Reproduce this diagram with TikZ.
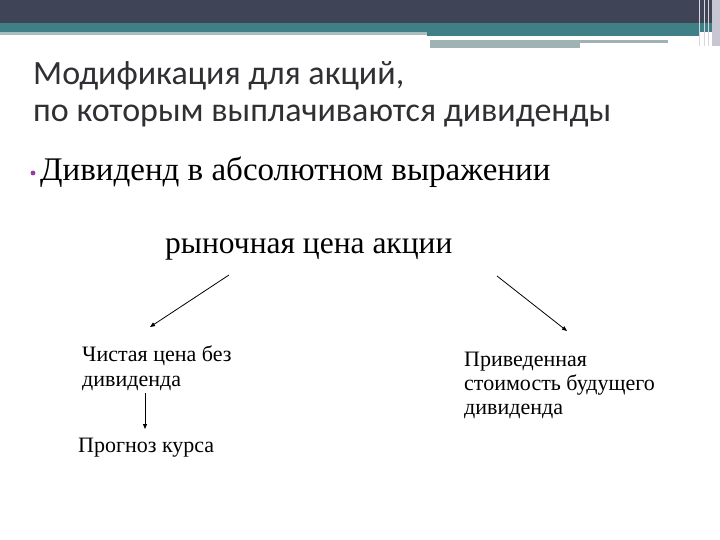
\documentclass[tikz,border=0pt]{standalone}
\usepackage{fontspec}
\setmainfont{Liberation Serif}
\newfontfamily\titlefont{Carlito}
\usetikzlibrary{arrows.meta}
\definecolor{hdrdark}{RGB}{63,68,86}
\definecolor{hdrteal}{RGB}{62,128,133}
\definecolor{hdrlight}{RGB}{169,189,192}
\definecolor{hdrgray}{RGB}{160,178,180}
\definecolor{hdrside}{RGB}{200,198,210}
\definecolor{titlegray}{RGB}{48,48,52}
\definecolor{bulletc}{RGB}{150,60,160}
\tikzset{
  txt/.style={anchor=base west, inner sep=0pt, align=left},
  arr/.style={-{Triangle[length=5pt,width=4pt]}, line width=0.8pt, black}
}
\begin{document}
\begin{tikzpicture}[x=1pt,y=-1pt]
\useasboundingbox (0,0) rectangle (720,540);
\fill[white] (0,0) rectangle (720,540);
% header
\fill[hdrdark] (0,0) rectangle (720,23);
\fill[hdrteal] (0,23) rectangle (720,32);
\fill[hdrlight] (0,32) rectangle (427,35);
\fill[hdrteal] (427,32) rectangle (700,36);
\fill[hdrgray] (430,40) rectangle (668,43);
\fill[hdrgray] (430,43) rectangle (580,48);
\fill[hdrside] (712,0) rectangle (720,46);
\draw[hdrside!70!white, line width=1pt] (699,0) -- (699,46);
\draw[hdrside!70!white, line width=1pt] (704,0) -- (704,46);
\draw[hdrside!70!white, line width=1pt] (708,0) -- (708,46);
% title
\node[txt, font=\titlefont\fontsize{34}{40}\selectfont, text=titlegray] (t1) at (33,85) {Модификация для акций,};
\node[txt, font=\titlefont\fontsize{34}{40}\selectfont, text=titlegray] (t2) at (33,122) {по которым выплачиваются дивиденды};
% bullet
\fill[bulletc] (33,173) circle (2.4);
\node[txt, font=\fontsize{33}{38}\selectfont] (b1) at (40,181) {Дивиденд в абсолютном выражении};
% diagram
\node[txt, font=\fontsize{31.5}{36}\selectfont] (top) at (165,254) {рыночная цена акции};
\node[txt, font=\fontsize{22}{25}\selectfont] (left) at (82,386) {Чистая цена без\\дивиденда};
\node[txt, font=\fontsize{22}{25}\selectfont] (fore) at (78,452) {Прогноз курса};
\node[txt, font=\fontsize{22}{24}\selectfont] (right) at (464,414) {Приведенная\\стоимость будущего\\дивиденда};
\coordinate (a1s) at (229,275);
\coordinate (a1e) at (150,327);
\coordinate (a2s) at (497,276);
\coordinate (a2e) at (567,331);
\coordinate (a3s) at (145,393);
\coordinate (a3e) at (145,429);
\draw[arr] (a1s) -- (a1e);
\draw[arr] (a2s) -- (a2e);
\draw[arr] (a3s) -- (a3e);
\end{tikzpicture}
\end{document}
